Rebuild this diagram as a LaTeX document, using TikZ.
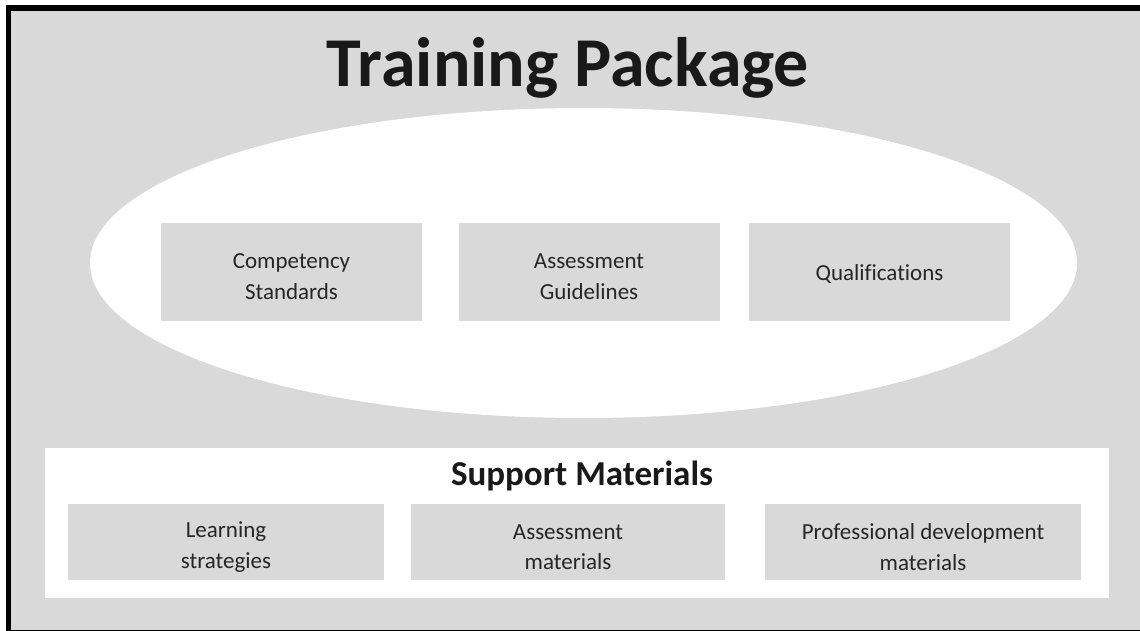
\documentclass[tikz,border=0pt]{standalone}
\usepackage{fontspec}
\setmainfont{Carlito}[Ligatures={NoCommon}]
\usepackage{xcolor}
\usetikzlibrary{positioning, shapes.geometric}
\definecolor{panelgray}{HTML}{D9D9D9}
\definecolor{inkgray}{HTML}{262626}
\tikzset{
  corebox/.style={fill=panelgray, minimum width=261, minimum height=98, inner sep=0pt},
  supportbox/.style={fill=panelgray, minimum width=316, minimum height=76, inner sep=0pt},
  boxtext/.style={align=center, text=inkgray, font=\fontsize{23}{30.5}\selectfont}
}
\begin{document}
\begin{tikzpicture}[x=1pt, y=-1pt]
  \useasboundingbox (0,0) rectangle (1140,630);
  \begin{scope}
  \clip (0,0) rectangle (1140,630);

  % Outer frame
  \draw[line width=5.5pt, fill=panelgray] (8.5,8) rectangle (1160,632.6);

  % Title
  \node[anchor=base, font=\fontsize{70}{80}\selectfont\bfseries, text=black!90] (title) at (568,86.5) {Training Package};

  % Ellipse with the three core parts
  \node[ellipse, fill=white, minimum width=987, minimum height=310, inner sep=0pt] (core) at (583.5,263) {};
  \node[corebox] (cs) at (291.5,272) {};
  \node[corebox] (ag) at (589,272) {};
  \node[corebox] (ql) at (879.5,272) {};
  \node[boxtext] at ([yshift=-4.5]cs.center) {Competency\\Standards};
  \node[boxtext] at ([yshift=-4.5]ag.center) {Assessment\\Guidelines};
  \node[boxtext] at ([yshift=-2]ql.center) {Qualifications};

  % Support materials
  \node[fill=white, minimum width=1064, minimum height=149.5, inner sep=0pt] (support) at (577,522.75) {};
  \node[anchor=base, font=\fontsize{35}{40}\selectfont\bfseries, text=black!90] (suptitle) at (582,485) {Support Materials};
  \node[supportbox] (ls) at (226,542) {};
  \node[supportbox, minimum width=314] (am) at (568,542) {};
  \node[supportbox] (pd) at (923,542) {};
  \node[boxtext] at ([yshift=-5]ls.center) {Learning\\strategies};
  \node[boxtext] at ([yshift=-5]am.center) {Assessment\\materials};
  \node[boxtext] at ([yshift=-5]pd.center) {Professional development\\materials};
  \end{scope}
\end{tikzpicture}
\end{document}
